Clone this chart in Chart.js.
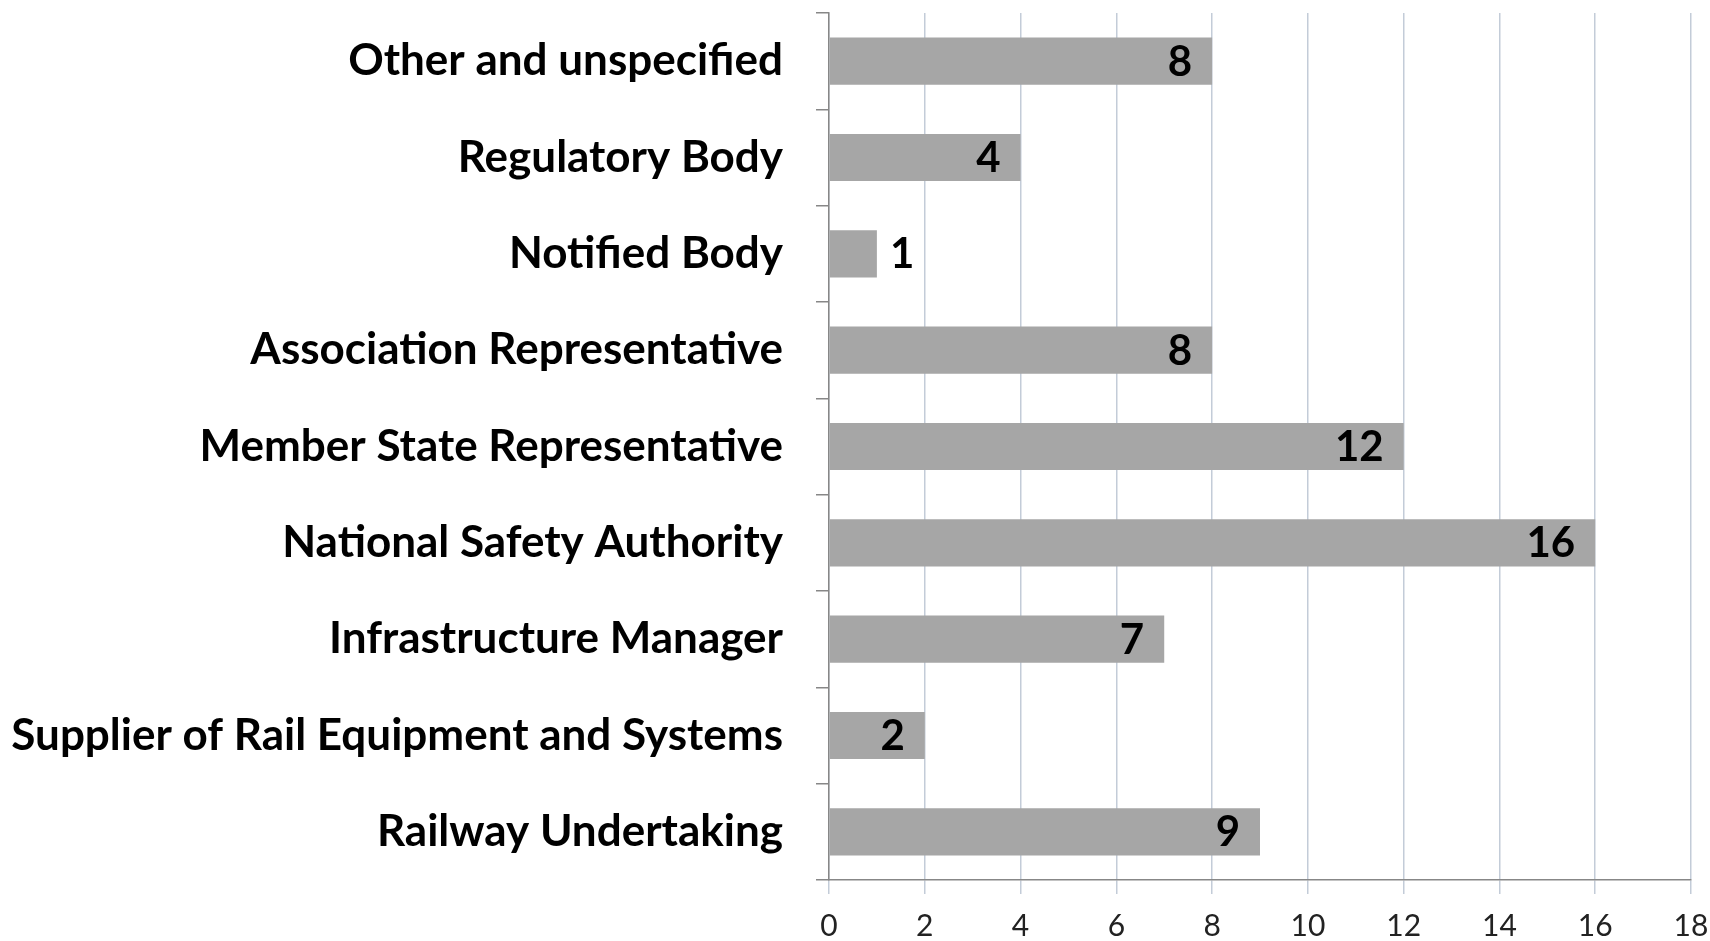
<!DOCTYPE html>
<html>
<head>
<meta charset="utf-8">
<script src="https://cdn.jsdelivr.net/npm/chart.js@4.4.1/dist/chart.umd.min.js"></script>
<style>
  html, body { margin: 0; padding: 0; background: #fff; }
  #wrap { width: 1710px; height: 941px; }
</style>
</head>
<body>
<div id="wrap"><canvas id="myChart"></canvas></div>
<script>
const categories = [
  'Other and unspecified',
  'Regulatory Body',
  'Notified Body',
  'Association Representative',
  'Member State Representative',
  'National Safety Authority',
  'Infrastructure Manager',
  'Supplier of Rail Equipment and Systems',
  'Railway Undertaking',
];
const counts = [8, 4, 1, 8, 12, 16, 7, 2, 9];
const xMin = 0;
const xMax = 18;
const xStep = 2;

const FONT = 'Lato, "Open Sans", sans-serif';

// value labels: inside the bar end, or just outside for short bars
const valueLabels = {
  id: 'valueLabels',
  afterDatasetsDraw(chart) {
    const ctx = chart.ctx;
    const meta = chart.getDatasetMeta(0);
    ctx.save();
    ctx.font = 'bold 42px ' + FONT;
    ctx.fillStyle = '#000';
    ctx.textBaseline = 'middle';
    meta.data.forEach((bar, i) => {
      const len = bar.x - bar.base;
      const txt = String(counts[i]);
      if (len > 70) {
        ctx.textAlign = 'right';
        ctx.fillText(txt, bar.x - 20, bar.y + 1);
      } else {
        ctx.textAlign = 'left';
        ctx.fillText(txt, bar.x + 13, bar.y + 1);
      }
    });
    ctx.restore();
  },
};

new Chart(document.getElementById('myChart'), {
  type: 'bar',
  data: {
    labels: categories,
    datasets: [
      {
        data: counts,
        backgroundColor: '#a6a6a6',
        borderWidth: 0,
        categoryPercentage: 1,
        barPercentage: 0.49,
      },
    ],
  },
  options: {
    indexAxis: 'y',
    responsive: true,
    maintainAspectRatio: false,
    animation: false,
    layout: { padding: { top: 13, right: 19, left: 0, bottom: 0 } },
    plugins: {
      legend: { display: false },
      tooltip: { enabled: false },
    },
    scales: {
      x: {
        min: xMin,
        max: xMax,
        ticks: {
          stepSize: xStep,
          color: '#222',
          font: { family: FONT, size: 30 },
          padding: 14,
        },
        grid: {
          color: '#c3ccd8',
          lineWidth: 1.5,
          tickLength: 14,
        },
        border: { color: '#878787', width: 1.5 },
        afterFit(scale) {
          scale.height = 61;
          scale.paddingLeft = 0;
          scale.paddingRight = 0;
        },
      },
      y: {
        ticks: {
          color: '#000',
          font: { family: FONT, size: 44, weight: 'bold' },
          padding: 33,
        },
        grid: {
          display: true,
          drawOnChartArea: false,
          offset: true,
          tickLength: 13,
          color: '#878787',
          lineWidth: 1.5,
        },
        border: { color: '#878787', width: 1.5 },
        afterFit(scale) {
          scale.width = 829;
          scale.paddingTop = 0;
          scale.paddingBottom = 0;
        },
      },
    },
  },
  plugins: [valueLabels],
});
</script>
</body>
</html>
